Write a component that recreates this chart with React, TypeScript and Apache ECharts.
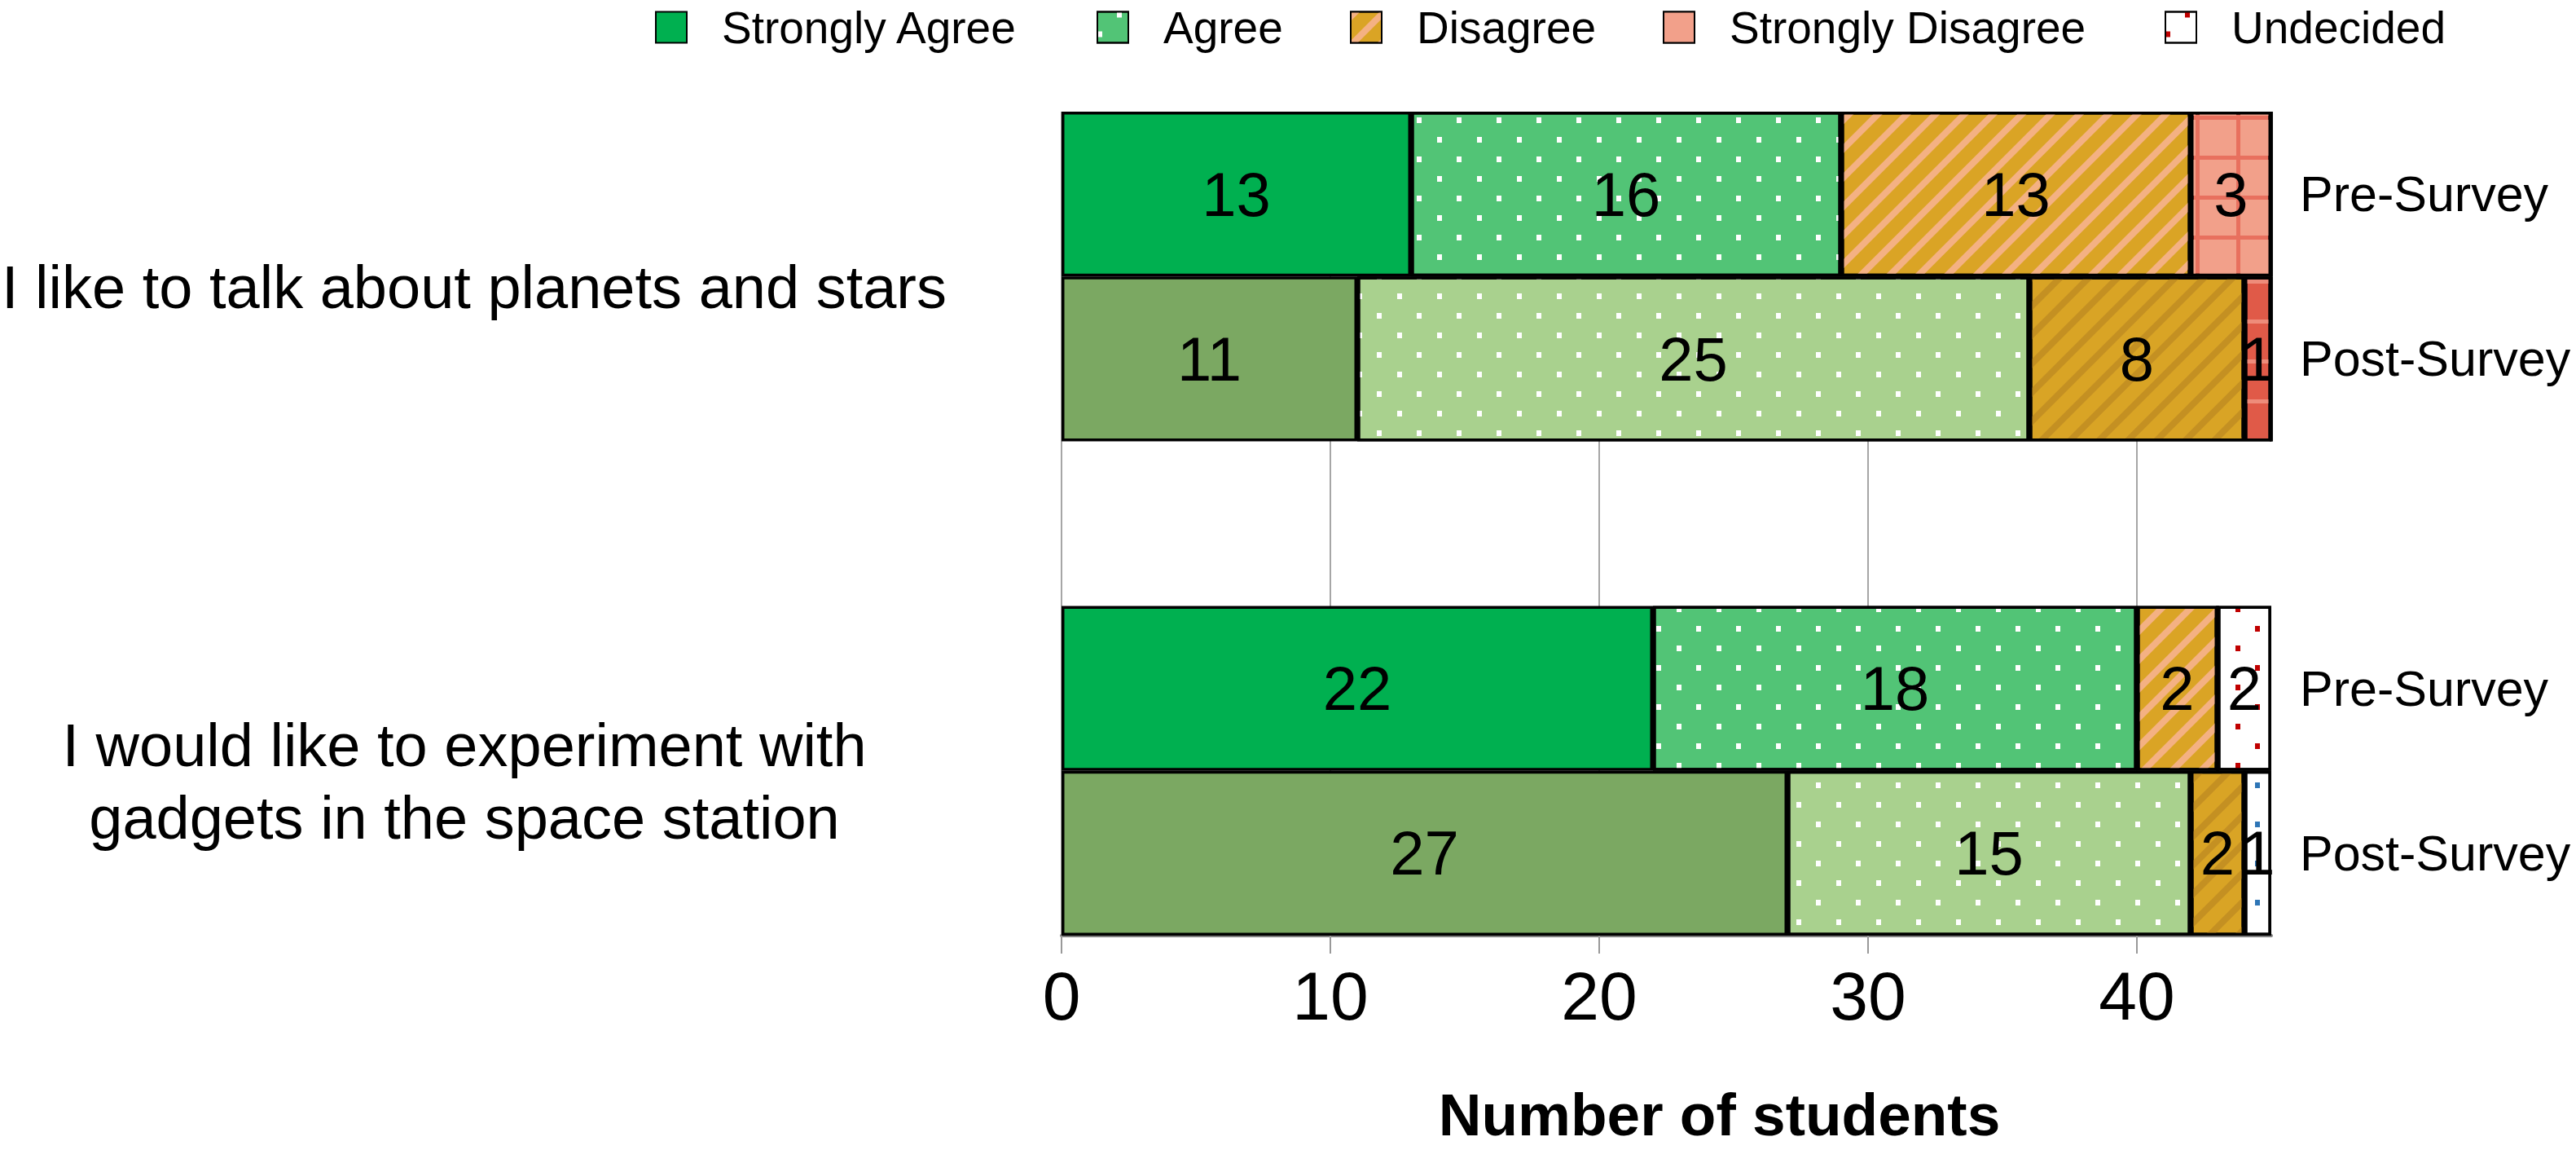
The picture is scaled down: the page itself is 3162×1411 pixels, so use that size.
import React, { useEffect, useRef } from "react";
import * as echarts from "echarts";

// ---- data ----
const slots = ["pre1", "post1", "gap", "pre2", "post2"];
const surveyLabels = ["Pre-Survey", "Post-Survey", "", "Pre-Survey", "Post-Survey"];
const statements = [
  "I like to talk about planets and stars",
  "I would like to experiment with\ngadgets in the space station",
];
const statementPositions = [1, 4];
const xTicks = [0, 10, 20, 30, 40];
const xMax = 45;

const responses = ["Strongly Agree", "Agree", "Disagree", "Strongly Disagree", "Undecided"];
const strongAgree = [13, 11, null, 22, 27];
const agree = [16, 25, null, 18, 15];
const disagree = [13, 8, null, 3, 2];
const disagreeShown = [13, 8, null, 2, 2];
const strongDisagree = [3, 1, null, 0, 0];
const undecided = [0, 0, null, 2, 1];

const FONT = "'Liberation Sans', Arial, Helvetica, sans-serif";

const dots = (color: string) => ({
  symbol: "rect",
  symbolSize: 1,
  color,
  dashArrayX: [
    [6, 43],
    [0, 24, 6, 19],
  ],
  dashArrayY: [7, 17],
});
const stripes = (color: string) => ({
  symbol: "rect",
  symbolSize: 1,
  color,
  dashArrayX: [1, 0],
  dashArrayY: [8, 17],
  rotation: -Math.PI / 4,
});
const gridDecal = (color: string) => ({
  symbol: "rect",
  symbolSize: 1,
  color,
  dashArrayX: [45, 5],
  dashArrayY: [44, 5],
});
const hLines = (color: string) => ({
  symbol: "rect",
  symbolSize: 1,
  color,
  dashArrayX: [1, 0],
  dashArrayY: [5, 44],
});

const styles: any[] = [
  { pre: { color: "#00B050" }, post: { color: "#7BA862" } },
  { pre: { color: "#52C476", decal: dots("#FFFFFF") }, post: { color: "#A9D18E", decal: dots("#FFFFFF") } },
  { pre: { color: "#DAA425", decal: stripes("#F4B183") }, post: { color: "#D9A425", decal: stripes("#C49022") } },
  { pre: { color: "#E8705E", decal: gridDecal("#F2A08A") }, post: { color: "#E05A48", decal: hLines("#EE8C7A") } },
  { pre: { color: "#FFFFFF", decal: dots("#C00000") }, post: { color: "#FFFFFF", decal: dots("#2E75B6") } },
];

const legendLefts = [804, 1346, 1657, 2041, 2657];

export default function App() {
  const ref = useRef<HTMLDivElement>(null);
  useEffect(() => {
    if (!ref.current) return;
    const chart = echarts.init(ref.current, undefined, { renderer: "svg" });
    const values = [strongAgree, agree, disagree, strongDisagree, undecided];
    const series = responses.map((name, i) => ({
      name,
      type: "bar",
      stack: "total",
      yAxisIndex: 0,
      barCategoryGap: 0,
      barGap: 0,
      itemStyle: { ...styles[i].pre, borderColor: "#000", borderWidth: 3.5 },
      label: {
        show: true,
        position: "inside",
        fontSize: 76,
        color: "#000",
        fontFamily: FONT,
        formatter: (p: any) => {
          const v = i === 2 ? disagreeShown[p.dataIndex] : values[i][p.dataIndex];
          return v ? String(v) : "";
        },
      },
      data: values[i].map((v, k) => ({
        value: v,
        itemStyle: slots[k].startsWith("post") ? { ...styles[i].post } : undefined,
      })),
    }));

    chart.setOption({
      animation: false,
      backgroundColor: "#fff",
      textStyle: { fontFamily: FONT },
      legend: responses.map((name, i) => ({
        data: [name],
        left: legendLefts[i],
        top: 6,
        padding: 0,
        itemWidth: 38,
        itemHeight: 38,
        icon: "rect",
        selectedMode: false,
        textStyle: { fontSize: 55, lineHeight: 44, color: "#000", fontFamily: FONT, padding: [0, 0, 0, 38] },
      })),
      grid: { left: 1303, top: 137, width: 1485, height: 1011, containLabel: false, outerBoundsMode: "none" },
      xAxis: {
        type: "value",
        min: 0,
        max: xMax,
        interval: 10,
        axisLine: { show: true, onZero: false, lineStyle: { color: "#808080", width: 4 } },
        axisTick: { show: true, length: 22, customValues: xTicks, lineStyle: { color: "#999", width: 2 } },
        axisLabel: { customValues: xTicks, fontSize: 84, color: "#000", margin: 32, fontFamily: FONT },
        splitLine: { show: true, lineStyle: { color: "#a6a6a6", width: 2 } },
        name: "Number of students",
        nameLocation: "middle",
        nameGap: 189,
        nameTextStyle: {
          fontSize: 73,
          lineHeight: 60,
          fontWeight: "bold",
          color: "#000",
          fontFamily: FONT,
          padding: [0, 0, 0, 130],
        },
      },
      yAxis: [
        {
          type: "category",
          data: slots,
          inverse: true,
          position: "right",
          axisLine: { show: false },
          axisTick: { show: false },
          splitLine: { show: false },
          axisLabel: {
            interval: 0,
            formatter: (_v: string, idx: number) => surveyLabels[idx],
            fontSize: 61,
            color: "#000",
            margin: 35,
            fontFamily: FONT,
          },
        },
        {
          type: "value",
          min: 0,
          max: 5,
          inverse: true,
          position: "left",
          axisLine: { show: false },
          axisTick: { show: false },
          splitLine: { show: false },
          axisLabel: {
            customValues: statementPositions,
            formatter: (v: number) => {
              const k = statementPositions.indexOf(v);
              if (k < 0) return "";
              return k === 0 ? "{a|" + statements[k] + "}" : statements[k];
            },
            rich: {
              a: { fontSize: 74, color: "#000", fontFamily: FONT, padding: [0, 0, 0, 24] },
            },
            fontSize: 74,
            lineHeight: 89,
            align: "center",
            margin: 733,
            padding: [26, 0, 0, 0],
            color: "#000",
            fontFamily: FONT,
          },
        },
      ],
      series,
    } as any);
    return () => chart.dispose();
  }, []);
  return (
    <div
      ref={ref}
      style={{ position: "fixed", left: 0, top: 0, width: 3162, height: 1411, background: "#fff" }}
    />
  );
}
